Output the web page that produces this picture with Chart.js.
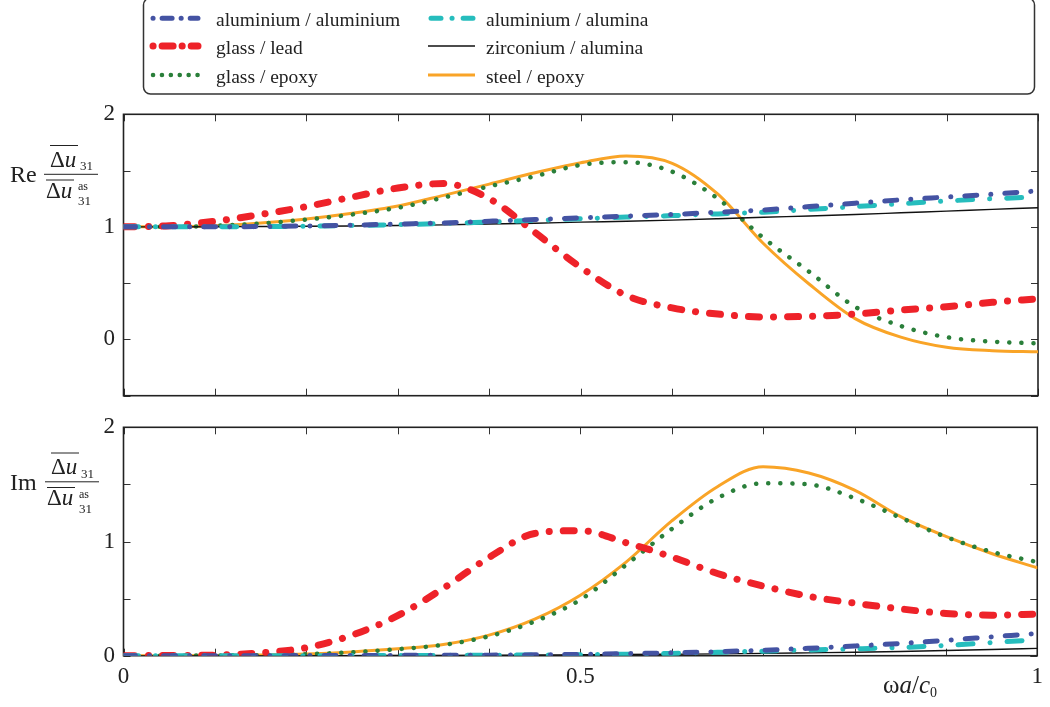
<!DOCTYPE html>
<html>
<head>
<meta charset="utf-8">
<script src="https://cdn.jsdelivr.net/npm/chart.js@4.4.1/dist/chart.umd.min.js"></script>
<style>
    body { margin: 0; background: #fff; }
    #wrap { position: relative; width: 1050px; height: 707px; overflow: hidden; }
    .pane { position: absolute; left: 0; }
    #overlay { position: absolute; left: 0; top: 0; pointer-events: none; }
    #overlay text { font-family: "Liberation Serif", serif; fill: #222; }
</style>
</head>
<body>
<div id="wrap">
    <div class="pane" style="top:92px"><canvas id="reChart" width="1050" height="326"></canvas></div>
    <div class="pane" style="top:405px"><canvas id="imChart" width="1050" height="302"></canvas></div>
    <svg id="overlay" width="1050" height="707">
        <!-- legend -->
        <rect x="143.5" y="-2" width="891" height="96" rx="7" fill="none" stroke="#333" stroke-width="1.5"/>
        <line x1="153" y1="18.3" x2="198" y2="18.3" stroke="#4453A3" stroke-width="5" stroke-linecap="round" stroke-dasharray="0.1 9 10 9" />
        <line x1="153" y1="46" x2="198" y2="46" stroke="#EE2229" stroke-width="7" stroke-linecap="round" stroke-dasharray="0.1 9 11 9" />
        <line x1="153" y1="75" x2="198" y2="75" stroke="#2A7F3A" stroke-width="4.5" stroke-linecap="round" stroke-dasharray="0.1 8.8" />
        <line x1="431" y1="18.3" x2="473" y2="18.3" stroke="#26BDBD" stroke-width="5" stroke-linecap="round" stroke-dasharray="10 11 0.1 11" />
        <line x1="428" y1="46" x2="475" y2="46" stroke="#111" stroke-width="1.4" />
        <line x1="428" y1="75" x2="475" y2="75" stroke="#F9A427" stroke-width="3" />
        <text x="216" y="26" font-size="19.5">aluminium / aluminium</text>
        <text x="216" y="54" font-size="19.5">glass / lead</text>
        <text x="216" y="82.7" font-size="19.5">glass / epoxy</text>
        <text x="486" y="26" font-size="19.5">aluminium / alumina</text>
        <text x="486" y="54" font-size="19.5">zirconium / alumina</text>
        <text x="486" y="82.7" font-size="19.5">steel / epoxy</text>

        <!-- y titles -->
        <g transform="translate(0,140)">
            <text x="10" y="42" font-size="24">Re</text>
            <line x1="50" y1="5.5" x2="78" y2="5.5" stroke="#222" stroke-width="1"/>
            <text x="50" y="26.7" font-size="23">Δ<tspan font-style="italic">u</tspan></text>
            <text x="80" y="30" font-size="13">31</text>
            <line x1="44" y1="34.3" x2="98" y2="34.3" stroke="#222" stroke-width="1"/>
            <line x1="46" y1="40" x2="74" y2="40" stroke="#222" stroke-width="1"/>
            <text x="46" y="57.7" font-size="23">Δ<tspan font-style="italic">u</tspan></text>
            <text x="78" y="50" font-size="12">as</text>
            <text x="78" y="65" font-size="13">31</text>
        </g>
        <g transform="translate(0,447.5)">
            <text x="10" y="42" font-size="24">Im</text>
            <line x1="51" y1="5.5" x2="79" y2="5.5" stroke="#222" stroke-width="1"/>
            <text x="51" y="26.7" font-size="23">Δ<tspan font-style="italic">u</tspan></text>
            <text x="81" y="30" font-size="13">31</text>
            <line x1="45" y1="34.3" x2="99" y2="34.3" stroke="#222" stroke-width="1"/>
            <line x1="47" y1="40" x2="75" y2="40" stroke="#222" stroke-width="1"/>
            <text x="47" y="57.7" font-size="23">Δ<tspan font-style="italic">u</tspan></text>
            <text x="79" y="50" font-size="12">as</text>
            <text x="79" y="65" font-size="13">31</text>
        </g>

        <!-- x title -->
        <text x="883" y="693" font-size="25">ω<tspan font-style="italic">a</tspan>/<tspan font-style="italic">c</tspan><tspan font-size="14" dy="4">0</tspan></text>
    </svg>
</div>
<script>
// frequency ωa/c0
const omega = [0, 0.05, 0.1, 0.15, 0.2, 0.25, 0.3, 0.35, 0.4, 0.45, 0.5,
               0.55, 0.6, 0.65, 0.7, 0.75, 0.8, 0.85, 0.9, 0.95, 1];

// real part
const reAlAl      = [1.0, 1.0, 1.0, 1.003, 1.008, 1.015, 1.025, 1.035, 1.05, 1.065, 1.08,
                     1.095, 1.11, 1.13, 1.15, 1.18, 1.21, 1.24, 1.265, 1.29, 1.32];
const reAlAlumina = [1.0, 1.0, 1.0, 1.002, 1.006, 1.012, 1.02, 1.03, 1.043, 1.057, 1.072,
                     1.087, 1.1, 1.115, 1.13, 1.155, 1.18, 1.205, 1.23, 1.25, 1.265];
const reGlassLead = [1.0, 1.01, 1.05, 1.11, 1.18, 1.265, 1.345, 1.385, 1.25, 0.95, 0.64,
                     0.39, 0.28, 0.225, 0.2, 0.205, 0.225, 0.26, 0.29, 0.33, 0.36];
const reZrAlumina = [1.0, 1.0, 1.001, 1.003, 1.005, 1.008, 1.012, 1.018, 1.025, 1.032, 1.042,
                     1.05, 1.06, 1.072, 1.085, 1.097, 1.11, 1.125, 1.14, 1.155, 1.17];
const reGlassEpoxy = [1.0, 1.0, 1.01, 1.03, 1.065, 1.11, 1.17, 1.26, 1.36, 1.45, 1.55,
                      1.575, 1.49, 1.25, 0.9, 0.6, 0.29, 0.12, 0.02, -0.02, -0.035];
const reSteelEpoxy = [1.0, 1.0, 1.01, 1.035, 1.07, 1.12, 1.185, 1.28, 1.38, 1.48, 1.57,
                      1.63, 1.565, 1.29, 0.85, 0.49, 0.185, 0.02, -0.07, -0.1, -0.11];

// imaginary part
const imAlAl      = [0, 0, 0, 0, 0.001, 0.002, 0.003, 0.004, 0.005, 0.008, 0.012,
                     0.018, 0.025, 0.035, 0.048, 0.065, 0.085, 0.107, 0.135, 0.165, 0.195];
const imAlAlumina = [0, 0, 0, 0, 0, 0.001, 0.002, 0.003, 0.004, 0.006, 0.009,
                     0.013, 0.02, 0.03, 0.04, 0.05, 0.06, 0.072, 0.09, 0.115, 0.14];
const imGlassLead = [0, 0.002, 0.005, 0.025, 0.07, 0.18, 0.35, 0.59, 0.86, 1.07, 1.095,
                     0.99, 0.865, 0.72, 0.61, 0.52, 0.46, 0.41, 0.37, 0.355, 0.365];
const imZrAlumina = [0, 0, 0, 0, 0, 0.001, 0.002, 0.003, 0.004, 0.006, 0.008,
                     0.01, 0.013, 0.016, 0.02, 0.025, 0.03, 0.037, 0.045, 0.054, 0.064];
const imGlassEpoxy = [0, 0, 0.002, 0.005, 0.013, 0.03, 0.057, 0.095, 0.17, 0.3, 0.49,
                      0.795, 1.11, 1.38, 1.51, 1.5, 1.38, 1.21, 1.04, 0.91, 0.82];
const imSteelEpoxy = [0, 0, 0.002, 0.006, 0.015, 0.033, 0.06, 0.098, 0.18, 0.32, 0.53,
                      0.82, 1.18, 1.48, 1.655, 1.6, 1.45, 1.22, 1.045, 0.895, 0.77];

const FONT = "'Liberation Serif', serif";
const INK = "#222";

// first entry is drawn on top
const styles = [
    { key: "alAl",       color: "#4453A3", width: 5,   dash: [12, 14, 0.1, 14] },
    { key: "alAlumina",  color: "#26BDBD", width: 5,   dash: [15, 17, 0.1, 17] },
    { key: "glassLead",  color: "#EE2229", width: 7,   dash: [11, 14, 0.1, 14] },
    { key: "zrAlumina",  color: "#111111", width: 1.4, dash: [] },
    { key: "glassEpoxy", color: "#2A7F3A", width: 4.5, dash: [0.1, 12] },
    { key: "steelEpoxy", color: "#F9A427", width: 3,   dash: [] },
];

function points(values) {
    return omega.map((w, i) => ({ x: w, y: values[i] }));
}

function buildDatasets(series) {
    return styles.map(s => ({
        data: points(series[s.key]),
        borderColor: s.color,
        borderWidth: s.width,
        borderDash: s.dash,
        borderCapStyle: "round",
        borderJoinStyle: "round",
        cubicInterpolationMode: "monotone",
        pointRadius: 0,
        fill: false,
    }));
}

function isHalf(v) {
    return Math.abs(v * 2 - Math.round(v * 2)) < 1e-6;
}

// boxed frame with inward ticks on all four sides
const frameTicks = {
    id: "frameTicks",
    beforeDatasetsDraw(chart) {
        const { ctx, chartArea: a, scales: { x, y } } = chart;
        const len = 7;
        ctx.save();
        ctx.strokeStyle = "#333";
        ctx.lineWidth = 1;
        ctx.beginPath();
        x.ticks.forEach(t => {
            const px = Math.round(x.getPixelForValue(t.value)) + 0.5;
            ctx.moveTo(px, a.bottom); ctx.lineTo(px, a.bottom - len);
            ctx.moveTo(px, a.top); ctx.lineTo(px, a.top + len);
        });
        y.ticks.forEach(t => {
            const py = Math.round(y.getPixelForValue(t.value)) + 0.5;
            ctx.moveTo(a.left, py); ctx.lineTo(a.left + len, py);
            ctx.moveTo(a.right, py); ctx.lineTo(a.right - len, py);
        });
        ctx.stroke();
        ctx.strokeStyle = INK;
        ctx.lineWidth = 1.6;
        ctx.strokeRect(a.left, a.top, a.right - a.left, a.bottom - a.top);
        ctx.restore();
    }
};

function makeOptions(yMin, yMax, showXLabels, xAxisHeight, padding) {
    return {
        responsive: false,
        animation: false,
        layout: { padding: padding },
        plugins: { legend: { display: false }, tooltip: { enabled: false } },
        scales: {
            x: {
                type: "linear",
                min: 0,
                max: 1,
                ticks: {
                    display: showXLabels,
                    stepSize: 0.1,
                    autoSkip: false,
                    maxRotation: 0,
                    padding: 7,
                    color: INK,
                    font: { family: FONT, size: 23 },
                    callback: v => (isHalf(v) ? String(+v.toFixed(1)) : ""),
                },
                grid: { display: false, drawTicks: false },
                border: { display: false },
                afterFit: s => { s.height = xAxisHeight; },
            },
            y: {
                min: yMin,
                max: yMax,
                ticks: {
                    stepSize: 0.5,
                    autoSkip: false,
                    padding: 8.5,
                    color: INK,
                    font: { family: FONT, size: 23 },
                    callback: v => (Number.isInteger(v) ? String(v) : ""),
                },
                grid: { display: false, drawTicks: false },
                border: { display: false },
                afterFit: s => { s.width = 123.5; },
            },
        },
    };
}

new Chart(document.getElementById("reChart"), {
    type: "line",
    data: {
        datasets: buildDatasets({
            alAl: reAlAl, alAlumina: reAlAlumina, glassLead: reGlassLead,
            zrAlumina: reZrAlumina, glassEpoxy: reGlassEpoxy, steelEpoxy: reSteelEpoxy,
        }),
    },
    options: makeOptions(-0.5, 2, false, 0, { top: 19, right: 12, bottom: 16, left: 0 }),
    plugins: [frameTicks],
});

new Chart(document.getElementById("imChart"), {
    type: "line",
    data: {
        datasets: buildDatasets({
            alAl: imAlAl, alAlumina: imAlAlumina, glassLead: imGlassLead,
            zrAlumina: imZrAlumina, glassEpoxy: imGlassEpoxy, steelEpoxy: imSteelEpoxy,
        }),
    },
    options: makeOptions(0, 2, true, 51.3, { top: 18.3, right: 12, bottom: 0, left: 0 }),
    plugins: [frameTicks],
});
</script>
</body>
</html>
